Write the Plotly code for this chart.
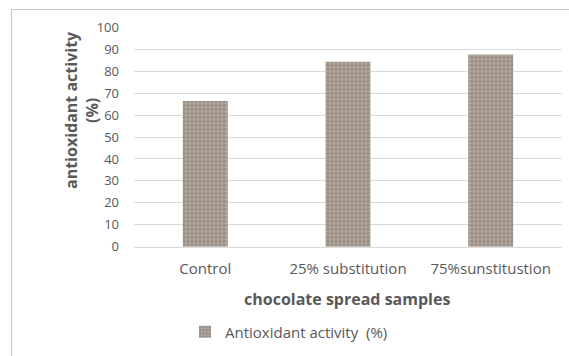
import plotly.graph_objects as go

categories = ["Control", "25% substitution", "75%sunstitustion"]
values = [66.4, 84.3, 87.6]
series_name = "Antioxidant activity\u00a0\u00a0(%)"
y_ticks = [0, 10, 20, 30, 40, 50, 60, 70, 80, 90, 100]

W, H = 569, 356
FONT = "Open Sans"
GRAY = "#595959"

fig = go.Figure()
fig.add_trace(go.Bar(
    x=categories, y=values, name=series_name,
    marker=dict(
        color="#a89d92",
        line=dict(width=0),
        pattern=dict(shape=".", bgcolor="#b2a89e", fgcolor="#6f655c",
                     size=4, solidity=0.45),
    ),
    showlegend=True,
))

fig.update_layout(
    width=W, height=H,
    margin=dict(l=0, r=0, t=0, b=0),
    paper_bgcolor="white", plot_bgcolor="white",
    bargap=0.685,
    font=dict(family=FONT, color=GRAY),
    xaxis=dict(
        domain=[134 / W, 562 / W],
        showgrid=False, showline=True, linecolor="#d9d9d9", linewidth=1,
        ticks="", tickfont=dict(size=15, color=GRAY), ticklabelstandoff=8,
        automargin=False,
    ),
    yaxis=dict(
        domain=[1 - 246.7 / H, 1 - 27.3 / H],
        range=[0, 100], tickvals=y_ticks,
        showgrid=True, gridcolor="#d9d9d9", gridwidth=1,
        zeroline=False, showline=False, ticks="",
        tickfont=dict(size=13, color=GRAY), ticklabelstandoff=14,
        automargin=False,
    ),
    legend=dict(
        orientation="h", x=185 / W, xanchor="left",
        y=1 - 332 / H, yanchor="middle",
        font=dict(size=15, color=GRAY), bgcolor="rgba(0,0,0,0)",
    ),
    annotations=[
        dict(text="<b>chocolate spread samples</b>", xref="paper", yref="paper",
             x=347 / W, y=1 - 299 / H, xanchor="center", yanchor="middle",
             showarrow=False, font=dict(size=16, color=GRAY, family=FONT)),
        dict(text="<b>antioxidant activity<br>(%)</b>", xref="paper", yref="paper",
             x=82 / W, y=1 - 110 / H, xanchor="center", yanchor="middle",
             textangle=-90, showarrow=False,
             font=dict(size=16, color=GRAY, family=FONT)),
    ],
    shapes=[
        dict(type="rect", xref="paper", yref="paper",
             x0=11.5 / W, y0=-0.2, x1=1.2, y1=1 - 9.5 / H,
             line=dict(color="#c8c8c8", width=1), fillcolor="rgba(0,0,0,0)",
             layer="below"),
    ],
)

fig.write_html("out.html")
